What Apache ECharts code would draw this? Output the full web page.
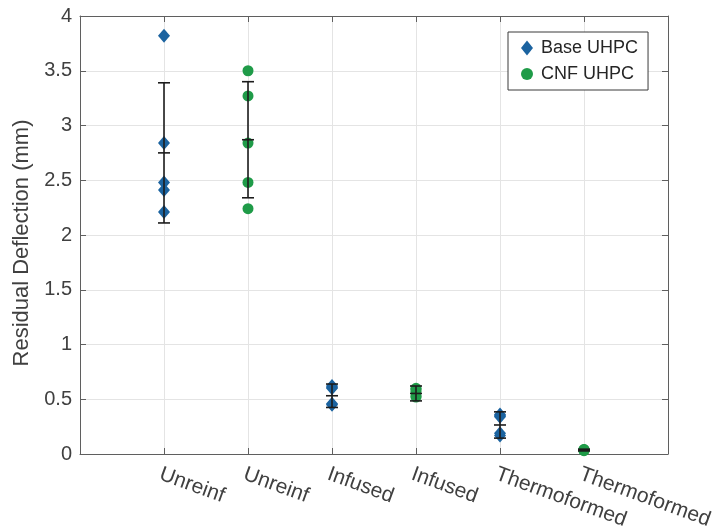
<!DOCTYPE html>
<html>
<head>
<meta charset="utf-8">
<title>Residual Deflection</title>
<script src="https://cdn.jsdelivr.net/npm/echarts@6.0.0/dist/echarts.min.js"></script>
<style>
  html, body { margin: 0; padding: 0; background: #ffffff; }
  #chart { width: 714px; height: 531px; }
</style>
</head>
<body>
<div id="chart"></div>
<script>
// Tick labels along the x axis (positions 1..6)
const categories = ['Unreinf', 'Unreinf', 'Infused', 'Infused', 'Thermoformed', 'Thermoformed'];

// Individual specimen results (mm), one row per reinforcement type
const basePoints = [
  [3.82, 2.84, 2.48, 2.41, 2.21],
  [0.62, 0.61, 0.60, 0.46, 0.45],
  [0.36, 0.35, 0.34, 0.19, 0.17]
];
const cnfPoints = [
  [3.50, 3.27, 2.84, 2.48, 2.24],
  [0.60, 0.59, 0.57, 0.53, 0.52],
  [0.04, 0.04, 0.035, 0.03, 0.035]
];

// Mean and standard deviation per group (mm)
const baseMean = [2.75, 0.532, 0.265];
const baseSd = [0.64, 0.107, 0.12];
const cnfMean = [2.87, 0.553, 0.036];
const cnfSd = [0.53, 0.068, 0.008];

// x positions of each group on the value axis
const basePos = [1, 3, 5];
const cnfPos = [2, 4, 6];

const yTicks = [0, 0.5, 1, 1.5, 2, 2.5, 3, 3.5, 4];

function toScatter(points, pos) {
  const out = [];
  points.forEach(function (row, i) {
    row.forEach(function (v) { out.push([pos[i], v]); });
  });
  return out;
}
function toErr(mean, sd, pos) {
  return mean.map(function (m, i) { return [pos[i], m, m - sd[i], m + sd[i]]; });
}

const errData = toErr(baseMean, baseSd, basePos).concat(toErr(cnfMean, cnfSd, cnfPos));

const FONT = '"Liberation Sans", Helvetica, Arial, sans-serif';
const TEXT = '#404040';
const AXIS = '#5f5f5f';
const GRID = '#e4e4e4';
const BLUE = '#1b63a0';
const GREEN = '#1f9b48';

function renderErr(params, api) {
  const x = api.value(0);
  const mid = api.coord([x, api.value(1)]);
  const lo = api.coord([x, api.value(2)]);
  const hi = api.coord([x, api.value(3)]);
  const hw = 6;
  const style = { stroke: '#1c1c1c', lineWidth: 1.6 };
  return {
    type: 'group',
    children: [
      { type: 'line', shape: { x1: mid[0], y1: lo[1], x2: mid[0], y2: hi[1] }, style: style },
      { type: 'line', shape: { x1: mid[0] - hw, y1: lo[1], x2: mid[0] + hw, y2: lo[1] }, style: style },
      { type: 'line', shape: { x1: mid[0] - hw, y1: hi[1], x2: mid[0] + hw, y2: hi[1] }, style: style },
      { type: 'line', shape: { x1: mid[0] - hw, y1: mid[1], x2: mid[0] + hw, y2: mid[1] }, style: style }
    ]
  };
}

const chart = echarts.init(document.getElementById('chart'), null, { renderer: 'canvas' });

chart.setOption({
  backgroundColor: '#ffffff',
  animation: false,
  textStyle: { fontFamily: FONT },
  grid: { left: 80, right: 46, top: 16, bottom: 77, containLabel: false, outerBoundsMode: 'none' },
  legend: {
    orient: 'vertical',
    left: 508,
    top: 32,
    width: 141,
    padding: [7, 10, 7, 13],
    itemGap: 8,
    itemWidth: 12,
    itemHeight: 15,
    backgroundColor: '#ffffff',
    borderColor: '#3a3a3a',
    borderWidth: 1,
    textStyle: { fontFamily: FONT, fontSize: 18, color: '#262626', padding: [0, 0, 0, 3] },
    data: [
      { name: 'Base UHPC', icon: 'diamond' },
      { name: 'CNF UHPC', icon: 'circle' }
    ]
  },
  xAxis: [
    {
      type: 'value',
      min: 0,
      max: 7,
      interval: 1,
      axisLine: { show: true, onZero: false, lineStyle: { color: AXIS, width: 1 } },
      axisTick: { show: true, inside: true, length: 6, lineStyle: { color: AXIS } },
      splitLine: { show: true, lineStyle: { color: GRID, width: 1 } },
      axisLabel: {
        rotate: -20,
        margin: 21,
        fontSize: 21,
        color: TEXT,
        fontFamily: FONT,
        padding: [0, 0, 0, -4],
        showMinLabel: false,
        showMaxLabel: false,
        formatter: function (v) {
          return (v >= 1 && v <= categories.length) ? categories[v - 1] : '';
        }
      }
    },
    {
      type: 'value',
      position: 'top',
      min: 0,
      max: 7,
      interval: 1,
      axisLine: { show: true, onZero: false, lineStyle: { color: AXIS, width: 1 } },
      axisTick: { show: true, inside: true, length: 6, lineStyle: { color: AXIS } },
      splitLine: { show: false },
      axisLabel: { show: false }
    }
  ],
  yAxis: [
    {
      type: 'value',
      min: yTicks[0],
      max: yTicks[yTicks.length - 1],
      interval: 0.5,
      name: 'Residual Deflection (mm)',
      nameLocation: 'middle',
      nameGap: 41,
      nameTextStyle: { fontSize: 22, color: TEXT, fontFamily: FONT, padding: [0, 16, 0, 0] },
      axisLine: { show: true, onZero: false, lineStyle: { color: AXIS, width: 1 } },
      axisTick: { show: true, inside: true, length: 6, lineStyle: { color: AXIS } },
      splitLine: { show: true, lineStyle: { color: GRID, width: 1 } },
      axisLabel: {
        margin: 8,
        fontSize: 20,
        color: TEXT,
        fontFamily: FONT,
        formatter: function (v) { return String(v); }
      }
    },
    {
      type: 'value',
      position: 'right',
      min: yTicks[0],
      max: yTicks[yTicks.length - 1],
      interval: 0.5,
      axisLine: { show: true, onZero: false, lineStyle: { color: AXIS, width: 1 } },
      axisTick: { show: true, inside: true, length: 6, lineStyle: { color: AXIS } },
      splitLine: { show: false },
      axisLabel: { show: false }
    }
  ],
  series: [
    {
      name: 'Base UHPC',
      type: 'scatter',
      symbol: 'diamond',
      symbolSize: [12, 14],
      itemStyle: { color: BLUE, opacity: 1 },
      z: 3,
      data: toScatter(basePoints, basePos)
    },
    {
      name: 'CNF UHPC',
      type: 'scatter',
      symbol: 'circle',
      symbolSize: 11,
      itemStyle: { color: GREEN, opacity: 1 },
      z: 3,
      data: toScatter(cnfPoints, cnfPos)
    },
    {
      name: 'error',
      type: 'custom',
      renderItem: renderErr,
      z: 5,
      silent: true,
      encode: { x: 0, y: [1, 2, 3] },
      data: errData
    }
  ]
});
</script>
</body>
</html>
